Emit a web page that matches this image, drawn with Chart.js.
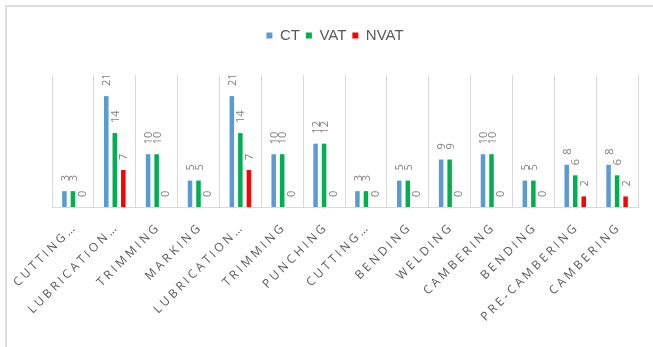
<!DOCTYPE html>
<html>
<head>
<meta charset="utf-8">
<script src="https://cdn.jsdelivr.net/npm/chart.js@4/dist/chart.umd.min.js"></script>
<style>
  html, body { margin: 0; padding: 0; background: #ffffff; }
  #frame {
    position: absolute; left: 5px; top: 5px; width: 648px; height: 342px;
    border-top: 2px solid #dcdcdc; border-left: 2px solid #dcdcdc; box-sizing: border-box;
  }
  #wrap { position: absolute; left: 0; top: 0; width: 653px; height: 347px; }
</style>
</head>
<body>
<div id="frame"></div>
<div id="wrap"><canvas id="chart" width="653" height="347"></canvas></div>
<script>
// Process steps and their times
const categories = ['CUTTING…', 'LUBRICATION…', 'TRIMMING', 'MARKING', 'LUBRICATION…', 'TRIMMING',
  'PUNCHING', 'CUTTING…', 'BENDING', 'WELDING', 'CAMBERING', 'BENDING', 'PRE-CAMBERING', 'CAMBERING'];
const ctValues   = [3, 21, 10, 5, 21, 10, 12, 3, 5, 9, 10, 5, 8, 8];
const vatValues  = [3, 14, 10, 5, 14, 10, 12, 3, 5, 9, 10, 5, 6, 6];
const nvatValues = [0, 7, 0, 0, 7, 0, 0, 0, 0, 0, 0, 0, 2, 2];
const seriesNames = ['CT', 'VAT', 'NVAT'];
const seriesColors = ['#5b9bd5', '#00b050', '#ff0000'];

// Vertical value labels above each bar
const valueLabels = {
  id: 'valueLabels',
  afterDatasetsDraw(chart) {
    const ctx = chart.ctx;
    ctx.save();
    ctx.font = '11px "Open Sans"';
    ctx.fillStyle = '#808080';
    ctx.textAlign = 'left';
    ctx.textBaseline = 'middle';
    chart.data.datasets.forEach((ds, i) => {
      chart.getDatasetMeta(i).data.forEach((bar, j) => {
        ctx.save();
        ctx.translate(bar.x + 1, bar.y - 10);
        ctx.rotate(-Math.PI / 2);
        ctx.fillText(String(ds.data[j]), 0, 0);
        ctx.restore();
      });
    });
    ctx.restore();
  }
};

// Wider letter spacing for the category labels
const spacedCategoryLabels = {
  id: 'spacedCategoryLabels',
  beforeDraw(chart) {
    const xs = chart.scales.x;
    if (xs && !xs._spaced) {
      const orig = xs.drawLabels;
      xs.drawLabels = function (area) {
        const c = this.ctx;
        c.save();
        c.letterSpacing = '3px';
        orig.call(this, area);
        c.restore();
      };
      xs._spaced = true;
    }
  }
};

const datasets = [ctValues, vatValues, nvatValues].map((values, i) => ({
  label: seriesNames[i],
  data: values,
  backgroundColor: seriesColors[i],
  borderWidth: 0,
  categoryPercentage: 0.61,
  barPercentage: 0.53
}));

new Chart(document.getElementById('chart'), {
  type: 'bar',
  data: { labels: categories, datasets },
  options: {
    responsive: false,
    animation: false,
    layout: { padding: { left: 32, right: 15, top: 22, bottom: 0 } },
    plugins: {
      tooltip: { enabled: false },
      legend: {
        position: 'top',
        labels: {
          boxWidth: 6, boxHeight: 6, padding: 6, color: '#595959',
          font: { family: '"Liberation Sans", Arial, sans-serif', size: 15 }
        }
      },
      title: {
        display: true, text: '', weight: 500,
        font: { size: 10 }, padding: { top: 0, bottom: 10 }
      }
    },
    scales: {
      x: {
        grid: { color: '#d9d9d9', drawTicks: false, offset: true },
        border: { color: '#d9d9d9' },
        ticks: {
          color: '#595959', autoSkip: false, minRotation: 45, maxRotation: 45,
          padding: 13, labelOffset: 2,
          font: { family: '"Open Sans"', size: 12 }
        },
        afterFit(scale) { scale.height = 140; }
      },
      y: {
        min: 0, max: 25,
        grid: { display: false },
        border: { display: false },
        ticks: { display: false },
        afterFit(scale) { scale.width = 20; }
      }
    }
  },
  plugins: [valueLabels, spacedCategoryLabels]
});
</script>
</body>
</html>
